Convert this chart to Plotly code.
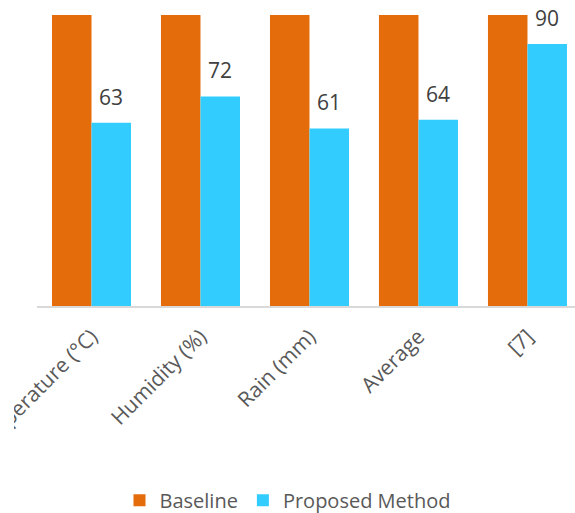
import plotly.graph_objects as go

categories = ["Temperature (°C)", "Humidity (%)", "Rain (mm)", "Average", "[7]"]
baseline = [100, 100, 100, 100, 100]   # bars run past the top of the visible axis
proposed = [63, 72, 61, 64, 90]

ORANGE = "#E46C0A"
BLUE = "#33CCFF"
BARGAP = 0.275

fig = go.Figure()
fig.add_trace(go.Bar(name="Baseline", x=list(range(len(categories))), y=baseline,
                     marker=dict(color=ORANGE, line=dict(width=0))))
fig.add_trace(go.Bar(name="Proposed Method", x=list(range(len(categories))), y=proposed,
                     marker=dict(color=BLUE, line=dict(width=0))))

off = (1 - BARGAP) / 4
for i, v in enumerate(proposed):
    fig.add_annotation(x=i + off, y=v, text=str(v), showarrow=False,
                       xref="x", yref="y", yanchor="bottom", yshift=10,
                       font=dict(family="Open Sans", size=21, color="#404040"))

# the original chart area is clipped a little to the right of the page edge
fig.add_shape(type="rect", xref="paper", yref="paper",
              x0=-37 / 538, x1=(14 - 37) / 538, y0=-0.7, y1=-0.005,
              fillcolor="white", line=dict(width=0), layer="above")

fig.update_layout(
    width=575, height=513,
    margin=dict(l=37, r=0, t=15, b=207),
    paper_bgcolor="white", plot_bgcolor="white",
    barmode="group", bargap=BARGAP, bargroupgap=0,
    font=dict(family="Open Sans", color="#595959"),
    showlegend=True,
    legend=dict(orientation="h", xref="container", yref="container",
                x=0.5, xanchor="center", y=0.025, yanchor="middle",
                font=dict(size=20, color="#595959"), itemwidth=30,
                traceorder="normal"),
)
fig.update_xaxes(
    tickmode="array", tickvals=list(range(len(categories))), ticktext=categories,
    range=[-0.5, 4.436], tickangle=-45, tickfont=dict(size=21, color="#595959"),
    ticklabeloverflow="allow", ticklabelstandoff=8,
    showline=True, linecolor="#D9D9D9", linewidth=2, showgrid=False,
    ticks="", automargin=False, zeroline=False,
)
fig.update_yaxes(range=[0, 100], visible=False, showgrid=False, zeroline=False)

fig.write_html("out.html")
